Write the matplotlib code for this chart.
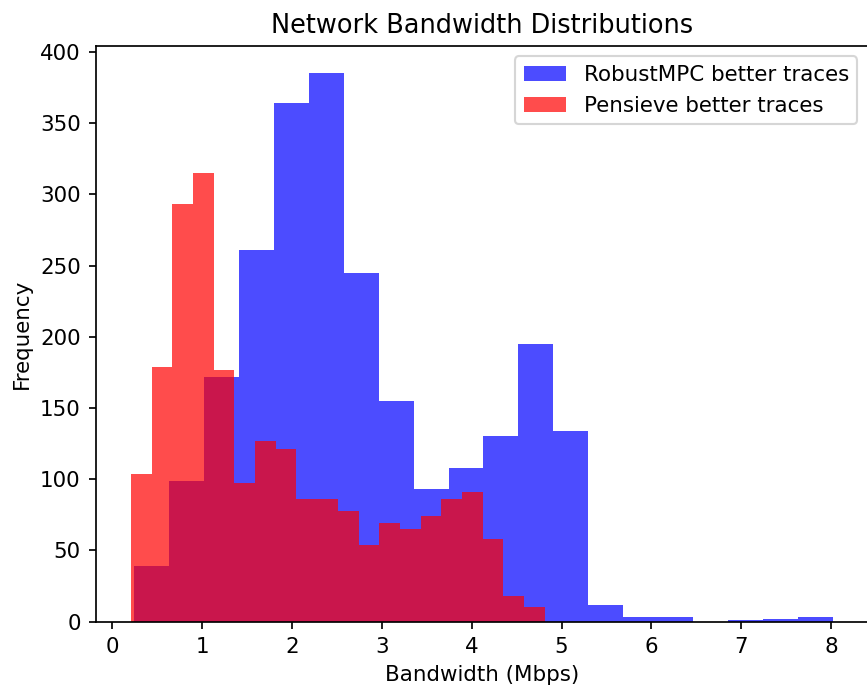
import numpy as np
import matplotlib
matplotlib.use("Agg")
from matplotlib import pyplot as plt

# bin counts (20 bins each)
robust_counts = [39, 99, 172, 261, 364, 385, 245, 155, 93, 108,
                 130, 195, 134, 12, 3, 3, 0, 1, 2, 3]
pensieve_counts = [104, 179, 293, 315, 177, 97, 127, 121, 86, 86,
                   78, 54, 69, 65, 74, 86, 91, 58, 18, 10]

# bandwidth range covered by each histogram (Mbps)
robust_range = (0.24, 8.02)
pensieve_range = (0.205, 4.813)
n_bins = 20

robust_edges = np.linspace(robust_range[0], robust_range[1], n_bins + 1)
pensieve_edges = np.linspace(pensieve_range[0], pensieve_range[1], n_bins + 1)

fig = plt.figure(figsize=(867 / 154, 693 / 154), dpi=154)
ax = fig.add_axes([0.1104, 0.1029, 1.0012 - 0.1104, 0.934 - 0.1029])

ax.hist(robust_edges[:-1], bins=robust_edges, weights=robust_counts,
        color='blue', alpha=0.7, label='RobustMPC better traces')
ax.hist(pensieve_edges[:-1], bins=pensieve_edges, weights=pensieve_counts,
        color='red', alpha=0.7, label='Pensieve better traces')

ax.set_xlabel("Bandwidth (Mbps)")
ax.set_ylabel("Frequency")
ax.set_title("Network Bandwidth Distributions")
ax.legend(loc='upper right')

fig.savefig('out.png', dpi=154)
